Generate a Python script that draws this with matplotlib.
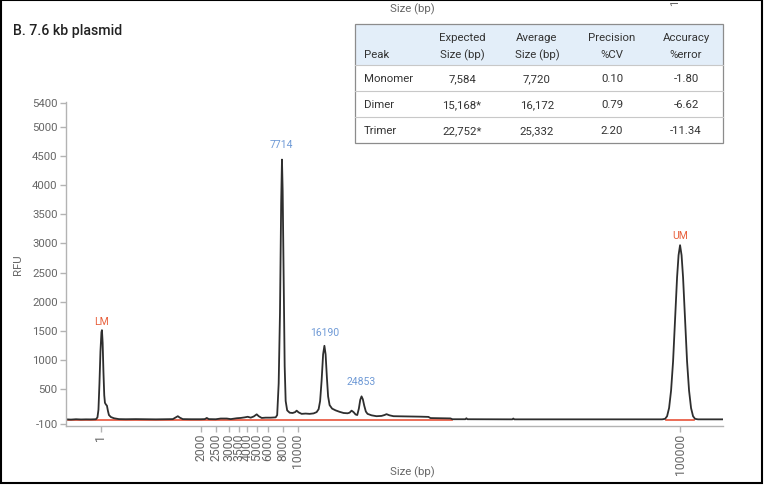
import matplotlib
matplotlib.use("Agg")
from matplotlib import pyplot as plt
from matplotlib.patches import Rectangle
from matplotlib.lines import Line2D

plt.rcParams['font.family'] = ['Roboto', 'DejaVu Sans']
plt.rcParams['axes.unicode_minus'] = False

W, H = 764, 486

# electropherogram trace (migration position vs RFU)
trace_pos = [65, 70, 75, 80, 85, 90, 95, 96.5, 97.5, 98.5, 99.5, 100.5, 101, 101.7, 102.5, 103.3, 104, 105, 106, 107,
             108, 110, 113, 118, 125, 135, 145, 155, 165, 172, 175, 177, 179, 182, 190, 200, 204, 206, 208, 215,
             220, 226, 230, 236, 240, 244, 247, 250, 253, 256, 258, 261, 265, 270, 275, 276.5, 278, 279.3, 280.5,
             281.3, 282, 283, 284, 285, 286.5, 289, 292, 294.5, 296, 298, 301, 305, 309, 313, 316, 318, 319.5, 321,
             322.5, 323.8, 325, 326.3, 327.5, 329, 331.5, 335, 339, 343, 347, 349, 351, 353, 355, 356.7, 358.3,
             359.7, 361, 362.3, 363.7, 365.3, 367, 371, 376, 381, 384, 386, 389, 393, 400, 410, 420, 428, 430, 440,
             450, 452, 465, 466, 467, 500, 512, 513, 514, 540, 580, 620, 650, 662, 665, 667, 669, 671, 673, 675,
             677, 678.5, 680, 681.5, 683, 685, 687, 689, 691, 693, 695, 698, 710, 723]
trace_rfu = [-14, -18, -12, -16, -14, -15, -12, 20, 150, 600, 1150, 1480, 1515, 1300, 800, 400, 270, 240, 220, 130,
             60, 25, 5, -10, -12, -10, -12, -14, -12, -10, 20, 40, 15, -10, -12, -12, -10, 10, -10, -12,
             0, 0, -10, 5, 10, 20, 30, 15, 35, 72, 40, 10, 15, 15, 20, 60, 600, 1800, 3700,
             4438, 3900, 2400, 900, 300, 140, 100, 95, 110, 135, 105, 80, 85, 80, 88, 110, 160, 300, 650,
             1100, 1247, 1100, 700, 380, 230, 170, 140, 115, 95, 90, 100, 135, 110, 70, 60, 170,
             320, 380, 330, 220, 120, 80, 55, 40, 45, 60, 75, 55, 40, 38, 35, 32, 28, 8, 5,
             2, -12, -12, 5, -12, -14, -14, 0, -14, -14, -14, -14, -14, -14, -5, 40, 180, 480, 980, 1700,
             2420, 2800, 2971, 2800, 2420, 1700, 980, 480, 180, 40, -5, -14, -14, -14]

# ladder: migration positions of size markers
ladder_pos = [100, 200, 215, 228, 238, 246, 256, 267, 282, 297, 680]
ladder_bp = ['1', '2000', '2500', '3000', '3500', '4000', '5000', '6000', '8000', '10000', '100000']

# baseline segments drawn under the peak regions
baseline_start = [65, 666]
baseline_end = [452, 694]
baseline_rfu = -22

# peak calls
peak_pos = [281, 324, 361]
peak_lab = ['7714', '16190', '24853']
peak_lab_rfu = [4683, 1458, 620]
marker_pos = [101, 680]
marker_lab = ['LM', 'UM']
marker_lab_rfu = [1658, 3125]

yticks = [-100, 500, 1000, 1500, 2000, 2500, 3000, 3500, 4000, 4500, 5000, 5400]

# table values
tbl_peak = ['Monomer', 'Dimer', 'Trimer']
tbl_expected = ['7,584', '15,168*', '22,752*']
tbl_average = ['7,720', '16,172', '25,332']
tbl_precision = ['0.10', '0.79', '2.20']
tbl_accuracy = ['-1.80', '-6.62', '-11.34']
tbl_head = [('', 'Peak'), ('Expected', 'Size (bp)'), ('Average', 'Size (bp)'),
            ('Precision', '%CV'), ('Accuracy', '%error')]


def px(x, y):
    return x / W, 1 - y / H


fig = plt.figure(figsize=(W / 100, H / 100), dpi=100)
ax = fig.add_axes([66 / W, 1 - 426 / H, (723 - 66) / W, (426 - 102) / H])

grey = '#666666'
spine = '#b3b3b3'

for s, e in zip(baseline_start, baseline_end):
    ax.plot([s, e], [baseline_rfu, baseline_rfu], color='#e8533a', lw=1.2, zorder=1)
ax.plot(trace_pos, trace_rfu, color='#2e2e2e', lw=1.3, zorder=2)

for p, t, r in zip(peak_pos, peak_lab, peak_lab_rfu):
    ax.text(p, r, t, color='#6f9ad6', fontsize=7.5, ha='center', va='center')
for p, t, r in zip(marker_pos, marker_lab, marker_lab_rfu):
    ax.text(p, r, t, color='#e8603c', fontsize=7.5, ha='center', va='center')

ax.set_xlim(65, 723)
ax.set_ylim(-128, 5425)
ax.set_xticks(ladder_pos)
ax.set_xticklabels(ladder_bp, rotation=90, fontsize=8.8)
ax.set_yticks(yticks)
ax.spines['top'].set_visible(False)
ax.spines['right'].set_visible(False)
for k in ['left', 'bottom']:
    ax.spines[k].set_color(spine)
    ax.spines[k].set_linewidth(1)
ax.tick_params(axis='both', colors=spine, labelcolor=grey, width=1)
ax.tick_params(axis='y', length=4, pad=2, labelsize=8.2)
ax.tick_params(axis='x', length=4, pad=1.5)
ax.set_ylabel('RFU', color=grey, fontsize=8.2)
ax.set_xlabel('Size (bp)', color=grey, fontsize=8.2)
ax.xaxis.set_label_coords((412 - 66) / (723 - 66), -(466 - 426) / (426 - 102))
ax.yaxis.set_label_coords(-(66 - 23) / (723 - 66), (426 - 265) / (426 - 102))

# title and remnants of the panel above
fig.text(*px(13, 31), 'B. 7.6 kb plasmid', fontsize=10.2, fontweight='medium', color='#222222',
         ha='left', va='center')
fig.text(*px(412, 9), 'Size (bp)', fontsize=8.2, color=grey, ha='center', va='center')
fig.text(*px(675, 6), '1', fontsize=8.2, color=grey, ha='center', va='bottom', rotation=90)

# table
tx0, tx1 = 355, 723
row_y = [24, 65, 91, 117, 143]
fig.add_artist(Rectangle(px(tx0, row_y[1]), (tx1 - tx0) / W, (row_y[1] - row_y[0]) / H,
                         transform=fig.transFigure, facecolor='#e3eef9', edgecolor='none'))
for y in row_y[1:-1]:
    fig.add_artist(Line2D([tx0 / W, tx1 / W], [1 - y / H, 1 - y / H], color='#c8c8c8', lw=0.8))
fig.add_artist(Rectangle(px(tx0, row_y[-1]), (tx1 - tx0) / W, (row_y[-1] - row_y[0]) / H,
                         transform=fig.transFigure, facecolor='none', edgecolor='#8c8c8c', lw=0.9))
col_x = [364, 462, 537, 612, 686]
col_ha = ['left', 'center', 'center', 'center', 'center']
tc = '#333333'
for cx, ha, (l1, l2) in zip(col_x, col_ha, tbl_head):
    if l1:
        fig.text(*px(cx, 38), l1, fontsize=8.2, color=tc, ha=ha, va='center')
    fig.text(*px(cx, 55), l2, fontsize=8.2, color=tc, ha=ha, va='center')
cols = [tbl_peak, tbl_expected, tbl_average, tbl_precision, tbl_accuracy]
for i in range(3):
    yc = (row_y[i + 1] + row_y[i + 2]) / 2 + 1
    for cx, ha, col in zip(col_x, col_ha, cols):
        fig.text(*px(cx, yc), col[i], fontsize=8.2, color=tc, ha=ha, va='center')

# outer frame
fig.add_artist(Rectangle((0.5 / W, 3 / H), (W - 2.5) / W, (H - 3.5) / H, transform=fig.transFigure,
                         facecolor='none', edgecolor='black', lw=1.5))

fig.savefig('out.png', dpi=100)
